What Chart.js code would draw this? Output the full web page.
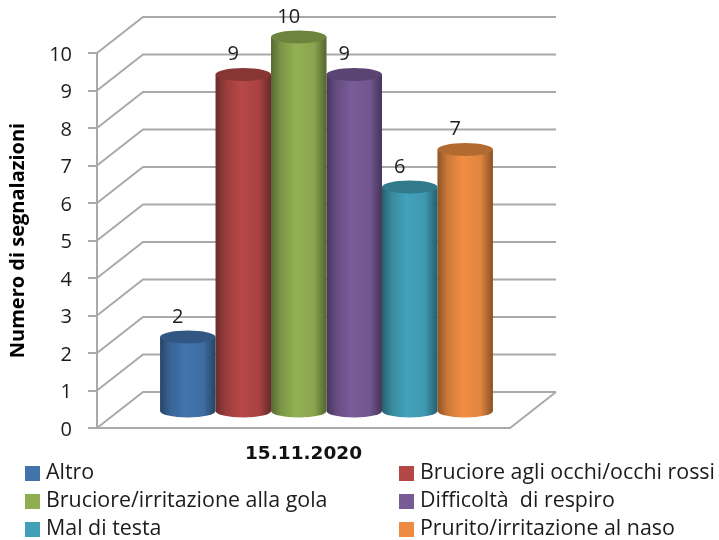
<!DOCTYPE html>
<html lang="it">
<head>
    <meta charset="UTF-8">
    <title>Numero di segnalazioni</title>
    <script src="https://cdn.jsdelivr.net/npm/chart.js"></script>
    <style>
        body { margin: 0; background: #ffffff; }
        canvas { display: block; }
    </style>
</head>
<body>
<canvas id="symptomChart" width="719" height="540"></canvas>
<script>
    const categories = ['15.11.2020'];
    const seriesLabels = [
        'Altro',
        'Bruciore agli occhi/occhi rossi',
        'Bruciore/irritazione alla gola',
        'Difficoltà  di respiro',
        'Mal di testa',
        'Prurito/irritazione al naso'
    ];
    const seriesValues = [2, 9, 10, 9, 6, 7];
    const seriesColors = ['#4273ab', '#b24746', '#8fae52', '#775a96', '#41a0b8', '#ec8b41'];

    const FONT = '"Open Sans", sans-serif';
    const LINE = '#a9a9a9';
    const TEXT = '#1c1c1c';
    // perspective of the 3D box: the back wall sits this far from the front edge
    const DEPTH_X = 46, DEPTH_Y = 36;
    // cylinders stand halfway into the box
    const BAR_DX = 23, BAR_DY = 16, CAP_RY = 6.5;

    function shade(hex, f) {
        const n = parseInt(hex.slice(1), 16);
        const c = [n >> 16, (n >> 8) & 255, n & 255].map(v => Math.min(255, Math.round(v * f)));
        return `rgb(${c[0]},${c[1]},${c[2]})`;
    }

    const box3d = {
        id: 'box3d',
        // sloped gridlines on the left wall, back wall and floor
        beforeDatasetsDraw(chart) {
            const { ctx, chartArea: a, scales: { y } } = chart;
            ctx.save();
            ctx.strokeStyle = LINE;
            ctx.lineWidth = 2;
            y.ticks.forEach(t => {
                const py = y.getPixelForValue(t.value);
                ctx.beginPath();
                ctx.moveTo(a.left, py);
                ctx.lineTo(a.left + DEPTH_X, py - DEPTH_Y);
                ctx.lineTo(a.right + DEPTH_X, py - DEPTH_Y);
                ctx.stroke();
            });
            ctx.beginPath();
            ctx.moveTo(a.left, a.bottom);
            ctx.lineTo(a.right, a.bottom);
            ctx.lineTo(a.right + DEPTH_X, a.bottom - DEPTH_Y);
            ctx.stroke();
            // axis numbers, a touch below their tick marks
            ctx.fillStyle = TEXT;
            ctx.font = `20px ${FONT}`;
            ctx.textAlign = 'right';
            ctx.textBaseline = 'middle';
            y.ticks.forEach(t => {
                ctx.fillText(t.label, a.left - 25, y.getPixelForValue(t.value) + 2);
            });
            ctx.restore();
        },
        // each bar becomes a shaded cylinder
        beforeDatasetDraw(chart, args) {
            const { ctx } = chart;
            const bar = args.meta.data[0];
            const color = seriesColors[args.index];
            const cx = bar.x + BAR_DX, rx = bar.width / 2;
            const top = bar.y - BAR_DY, base = bar.base - BAR_DY;
            const grad = ctx.createLinearGradient(cx - rx, 0, cx + rx, 0);
            grad.addColorStop(0, shade(color, 0.6));
            grad.addColorStop(0.18, shade(color, 0.86));
            grad.addColorStop(0.45, shade(color, 1.02));
            grad.addColorStop(0.78, shade(color, 0.95));
            grad.addColorStop(1, shade(color, 0.58));
            ctx.save();
            ctx.fillStyle = grad;
            ctx.beginPath();
            ctx.moveTo(cx - rx, top);
            ctx.lineTo(cx - rx, base);
            ctx.ellipse(cx, base, rx, CAP_RY, 0, Math.PI, 0, true);
            ctx.lineTo(cx + rx, top);
            ctx.closePath();
            ctx.fill();
            ctx.fillStyle = shade(color, 0.76);
            ctx.beginPath();
            ctx.ellipse(cx, top, rx, CAP_RY, 0, 0, Math.PI * 2);
            ctx.fill();
            ctx.restore();
            return false;
        },
        afterDatasetsDraw(chart) {
            const { ctx } = chart;
            ctx.save();
            // value labels above the caps
            ctx.fillStyle = TEXT;
            ctx.font = `20px ${FONT}`;
            ctx.textAlign = 'center';
            ctx.textBaseline = 'middle';
            chart.data.datasets.forEach((ds, i) => {
                const bar = chart.getDatasetMeta(i).data[0];
                ctx.fillText(ds.data[0], bar.x + BAR_DX - 10, bar.y - BAR_DY - 20);
            });
            // two column legend under the axis
            const colX = [25, 399], rowY = [473, 501, 529];
            ctx.font = `21.4px ${FONT}`;
            ctx.textAlign = 'left';
            chart.data.datasets.forEach((ds, i) => {
                const x = colX[i % 2], yy = rowY[Math.floor(i / 2)];
                ctx.fillStyle = seriesColors[i];
                ctx.fillRect(x, yy - 7, 15, 15);
                ctx.fillStyle = TEXT;
                ctx.fillText(ds.label, x + 21, yy);
            });
            ctx.restore();
        }
    };

    new Chart(document.getElementById('symptomChart').getContext('2d'), {
        type: 'bar',
        data: {
            labels: categories,
            datasets: seriesLabels.map((label, i) => ({
                label: label,
                data: [seriesValues[i]],
                backgroundColor: seriesColors[i]
            }))
        },
        options: {
            responsive: false,
            animation: false,
            barPercentage: 1,
            categoryPercentage: 0.806,
            layout: { padding: { top: 53, right: 209, left: 0, bottom: 0 } },
            plugins: {
                legend: { display: false },
                tooltip: { enabled: false }
            },
            scales: {
                x: {
                    grid: { display: false },
                    border: { display: false },
                    afterFit: s => { s.height = 112; },
                    ticks: {
                        color: '#111111',
                        padding: 7,
                        font: { family: 'DejaVu Sans', size: 18.5, weight: 'bold' }
                    }
                },
                y: {
                    min: 0,
                    max: 10,
                    afterFit: s => { s.width = 97; },
                    grid: {
                        drawOnChartArea: false,
                        color: LINE,
                        lineWidth: 2,
                        tickLength: 9
                    },
                    border: { color: LINE, width: 2 },
                    title: {
                        display: true,
                        text: 'Numero di segnalazioni',
                        color: '#000000',
                        padding: { top: 6, bottom: 0 },
                        font: { family: FONT, size: 20, weight: 'bold' }
                    },
                    ticks: {
                        stepSize: 1,
                        display: false
                    }
                }
            }
        },
        plugins: [box3d]
    });
</script>
</body>
</html>
